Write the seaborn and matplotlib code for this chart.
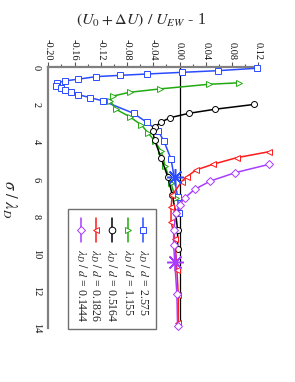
import numpy as np
import pandas as pd
import matplotlib
matplotlib.use("Agg")
import matplotlib.pyplot as plt
from matplotlib.lines import Line2D
from matplotlib.patches import Rectangle
import seaborn as sns

# ---------------- data (chart is drawn rotated: value on x, sigma/lambda_D on y) ----------
labels = ["2.575", "1.155", "0.5164", "0.1826", "0.1444"]
colors = ["#2b4bff", "#22aa11", "#000000", "#ff1a1a", "#a83cff"]
markers = ["s", ">", "o", "<", "D"]

blue_v = [0.118, 0.059, 0.004, -0.050, -0.090, -0.127, -0.155, -0.175, -0.186, -0.188, -0.181,
          -0.174, -0.165, -0.154, -0.136, -0.116, -0.070, -0.050, -0.033, -0.024, -0.013,
          -0.003, -0.001]
blue_s = [0.05, 0.18, 0.27, 0.36, 0.43, 0.50, 0.64, 0.73, 0.83, 1.00, 1.13,
          1.22, 1.34, 1.47, 1.63, 1.81, 2.47, 2.95, 3.40, 3.94, 4.92,
          6.94, 7.83]

green_v = [0.091, 0.045, -0.030, -0.076, -0.101, -0.106, -0.097, -0.076, -0.058, -0.048,
           -0.038, -0.028, -0.022, -0.013, -0.006]
green_s = [0.83, 0.91, 1.16, 1.34, 1.54, 1.79, 2.25, 2.65, 3.10, 3.51,
           3.95, 4.50, 5.30, 6.22, 7.03]

black_v = [0.114, 0.054, 0.014, -0.014, -0.029, -0.037, -0.041, -0.038, -0.028, -0.018,
           -0.011, -0.006, -0.003, -0.003]
black_s = [1.99, 2.25, 2.47, 2.70, 2.95, 3.19, 3.42, 3.90, 4.88, 5.87,
           6.85, 7.80, 8.73, 9.76]

red_v = [0.136, 0.087, 0.051, 0.025, 0.011, 0.003, -0.011, -0.013, -0.013, -0.007,
         -0.004, -0.002, -0.002]
red_s = [4.53, 4.85, 5.20, 5.51, 5.87, 6.14, 6.85, 7.50, 8.28, 9.20,
         10.87, 12.20, 13.73]

purple_v = [0.137, 0.085, 0.047, 0.023, 0.008, 0.000, -0.005, -0.009, -0.009, -0.004, -0.003]
purple_s = [5.20, 5.65, 6.10, 6.55, 7.00, 7.39, 7.83, 8.73, 9.53, 12.18, 13.88]

star_v = [-0.0076, -0.0076]
star_s = [5.87, 10.43]
star_colors = ["#2b4bff", "#a83cff"]

series_v = [blue_v, green_v, black_v, red_v, purple_v]
series_s = [blue_s, green_s, black_s, red_s, purple_s]

xticks = [-0.20, -0.16, -0.12, -0.08, -0.04, 0.00, 0.04, 0.08, 0.12]
yticks = [0, 2, 4, 6, 8, 10, 12, 14]

# ---------------- style ----------------
sns.set_style("white")
plt.rcParams["font.family"] = ["Liberation Serif", "DejaVu Serif"]
plt.rcParams["mathtext.fontset"] = "stix"
plt.rcParams["axes.unicode_minus"] = False

W, H = 295, 382
fig = plt.figure(figsize=(W / 100, H / 100), dpi=100)
L, R, T, B = 48.3, 258.3, 67.3, 328.3
ax = fig.add_axes([L / W, 1 - B / H, (R - L) / W, (B - T) / H])
ax.set_facecolor("none")

MS = 4.3
LW = 1.1

# zero line
ax.plot([0, 0], [0, 14], color="black", lw=0.9, zorder=1)

for v, s, c, m in zip(series_v, series_s, colors, markers):
    df = pd.DataFrame({"v": v, "s": s})
    sns.lineplot(data=df, x="v", y="s", sort=False, estimator=None, ax=ax,
                 color=c, lw=LW, marker=m, markersize=MS if m != "D" else MS - 0.4,
                 markerfacecolor="white", markeredgecolor=c, markeredgewidth=0.7,
                 clip_on=False, zorder=3)

for v, s, c in zip(star_v, star_s, star_colors):
    ax.plot([v], [s], linestyle="none", marker=(8, 2, 0), markersize=12,
            markeredgecolor=c, markeredgewidth=1.1, color=c, clip_on=False, zorder=5)

ax.set_xlim(-0.20, 0.12)
ax.set_ylim(14, 0)
ax.xaxis.set_ticks_position("top")
ax.xaxis.set_label_position("top")
ax.set_xticks(xticks)
ax.set_xticklabels([f"{t:.2f}" for t in xticks])
ax.set_xticks(np.arange(-0.18, 0.12, 0.04), minor=True)
ax.set_yticks(yticks)
ax.set_yticklabels([str(t) for t in yticks])
ax.set_yticks(np.arange(1, 14, 2), minor=True)

for side in ["right", "bottom"]:
    ax.spines[side].set_visible(False)
for side in ["top", "left"]:
    ax.spines[side].set_color("#808080")
    ax.spines[side].set_linewidth(1.6)

ax.tick_params(axis="both", which="both", direction="out", color="#555555", width=0.8,
               labelsize=7.5, labelcolor="#111111")
ax.tick_params(axis="both", which="major", length=3.5)
ax.tick_params(axis="both", which="minor", length=2.5)
ax.tick_params(axis="x", pad=1.5, labelrotation=-90)
ax.tick_params(axis="y", pad=2, labelrotation=-90)
for lab in ax.get_yticklabels():
    lab.set_va("center")

ax.set_xlabel("")
ax.set_ylabel("")
fig.text(141 / W, 1 - 20 / H, r"$(U_0 + \Delta U)\ /\ U_{EW}$ - 1", ha="center", va="center",
         fontsize=11.5)
fig.text(9 / W, 1 - 199 / H, r"$\sigma\ /\ \lambda_D$", ha="center", va="center",
         rotation=-90, fontsize=12)

# legend (rotated, drawn manually)
bx0, bx1, by0, by1 = 68.3, 156.0, 209.3, 329.3
fig.add_artist(Rectangle((bx0 / W, 1 - by1 / H), (bx1 - bx0) / W, (by1 - by0) / H,
                         transform=fig.transFigure, facecolor="white", edgecolor="#707070",
                         lw=1.0, zorder=6))
entry_x = [143.3, 128.3, 111.7, 95.7, 81.0]
for ex, lab, c, m in zip(entry_x, labels, colors, markers):
    fig.add_artist(Line2D([ex / W, ex / W], [1 - 218 / H, 1 - 242 / H], transform=fig.transFigure,
                          color=c, lw=LW, zorder=7))
    fig.add_artist(Line2D([ex / W], [1 - 230 / H], transform=fig.transFigure, linestyle="none",
                          marker=m, markersize=MS + 0.5 if m != "D" else MS,
                          markerfacecolor="white", markeredgecolor=c, markeredgewidth=0.7,
                          zorder=8))
    fig.text(ex / W, 1 - 249 / H, r"$\lambda_D\ /\ d$ = " + lab, rotation=-90, ha="center",
             va="top", fontsize=8.5, zorder=9)

fig.savefig("out.png", dpi=100)
